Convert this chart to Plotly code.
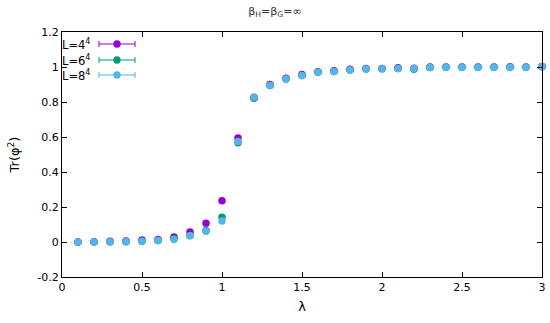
import plotly.graph_objects as go

lam = [round(0.1 * i, 1) for i in range(1, 31)]
L4 = [0.0, 0.001, 0.005, 0.006, 0.011, 0.015, 0.028, 0.057, 0.107, 0.236,
      0.594, 0.826, 0.900, 0.936, 0.957, 0.973, 0.978, 0.987, 0.991, 0.992,
      0.996, 0.993, 1.0, 1.0, 1.0, 1.0, 1.0, 1.001, 1.0, 1.003]
L6 = [0.0, 0.0, 0.001, 0.002, 0.005, 0.009, 0.02, 0.037, 0.066, 0.141,
      0.567, 0.822, 0.895, 0.931, 0.952, 0.970, 0.975, 0.983, 0.988, 0.990,
      0.992, 0.987, 0.997, 0.998, 0.998, 0.998, 0.999, 0.999, 0.999, 1.002]
L8 = [0.0, 0.0, 0.0, 0.001, 0.004, 0.008, 0.015, 0.036, 0.062, 0.12,
      0.575, 0.828, 0.895, 0.931, 0.952, 0.970, 0.975, 0.983, 0.988, 0.990,
      0.992, 0.991, 0.997, 0.998, 0.998, 0.998, 0.999, 0.999, 0.999, 1.002]

series = [("L=4<sup>4</sup>", L4, "#9400D3"),
          ("L=6<sup>4</sup>", L6, "#009E73"),
          ("L=8<sup>4</sup>", L8, "#56B4E9")]

xticks = [0, 0.5, 1, 1.5, 2, 2.5, 3]
yticks = [-0.2, 0, 0.2, 0.4, 0.6, 0.8, 1, 1.2]

fig = go.Figure()
for name, ys, col in series:
    fig.add_trace(go.Scatter(x=lam, y=ys, mode="markers", name=name,
                             marker=dict(color=col, size=7.5, line=dict(width=0)),
                             cliponaxis=False, showlegend=False))

font = dict(family="DejaVu Sans", size=11, color="#000000")

# manual gnuplot-style legend (text left, sample right)
shapes = []
annotations = []
W, H = 550, 323
ml, mr, mt, mb = 62, 8, 32, 46
pw, ph = W - ml - mr, H - mt - mb
def px(xp):
    return (xp - ml) / pw
def py(yp):
    return (H - mb - yp) / ph
rows = [44, 60, 75]
for (name, ys, col), yr in zip(series, rows):
    annotations.append(dict(x=px(60), y=py(yr), xref="paper", yref="paper",
                            text=name, showarrow=False, xanchor="left",
                            yanchor="middle", font=dict(family="DejaVu Sans", size=11.5, color="black")))
    shapes.append(dict(type="line", xref="paper", yref="paper",
                       x0=px(99), x1=px(135), y0=py(yr), y1=py(yr),
                       line=dict(color=col, width=1)))
    for xe in (99, 135):
        shapes.append(dict(type="line", xref="paper", yref="paper",
                           x0=px(xe), x1=px(xe), y0=py(yr - 3), y1=py(yr + 3),
                           line=dict(color=col, width=1)))
    shapes.append(dict(type="circle", xref="paper", yref="paper",
                       x0=px(117 - 3.7), x1=px(117 + 3.7),
                       y0=py(yr + 3.7), y1=py(yr - 3.7),
                       fillcolor=col, line=dict(width=0)))

fig.update_layout(
    width=W, height=H,
    margin=dict(l=ml, r=mr, t=mt, b=mb, autoexpand=False),
    paper_bgcolor="white", plot_bgcolor="white",
    font=font,
    title=dict(text="β<sub>H</sub>=β<sub>G</sub>=∞", x=px(302), xanchor="center",
               y=1 - 11 / H, yanchor="middle", font=dict(family="DejaVu Sans", size=11, color="#333")),
    xaxis=dict(range=[0, 3], tickvals=xticks, ticktext=[f"{v:g}" for v in xticks],
               ticks="inside", ticklen=5, tickcolor="black", showline=True,
               linecolor="black", linewidth=1, mirror="ticks", showgrid=False,
               zeroline=False, automargin=False, title=dict(text="λ", standoff=8)),
    yaxis=dict(range=[-0.2, 1.2], tickvals=yticks, ticktext=[f"{v:g}" for v in yticks],
               ticks="inside", ticklen=5, tickcolor="black", showline=True,
               linecolor="black", linewidth=1, mirror="ticks", showgrid=False,
               zeroline=False, automargin=False, title=dict(text="Tr(φ<sup>2</sup>)", standoff=14)),
    shapes=shapes, annotations=annotations,
)
fig.write_html("out.html", config={"displayModeBar": False},
               post_script="document.body.style.margin='0';")
